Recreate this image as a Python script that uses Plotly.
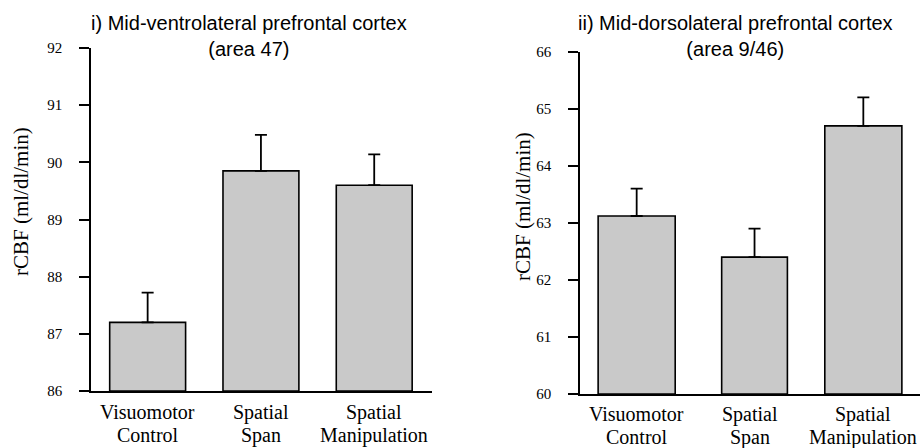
import plotly.graph_objects as go

categories = ["Visuomotor<br>Control", "Spatial<br>Span", "Spatial<br>Manipulation"]
vlpfc_values = [87.2, 89.85, 89.6]
vlpfc_errors = [0.52, 0.63, 0.54]
dlpfc_values = [63.12, 62.4, 64.7]
dlpfc_errors = [0.48, 0.5, 0.5]
vlpfc_ticks = [86, 87, 88, 89, 90, 91, 92]
dlpfc_ticks = [60, 61, 62, 63, 64, 65, 66]
vlpfc_base = 86
dlpfc_base = 60

W, H = 922, 448
serif = "Liberation Serif, Times New Roman, serif"
sans = "Liberation Sans, Arial, sans-serif"
fill = "#c9c9c9"

fig = go.Figure()

fig.add_trace(go.Bar(
    x=categories, y=[v - vlpfc_base for v in vlpfc_values], base=vlpfc_base,
    xaxis="x", yaxis="y",
    width=[0.67, 0.67, 0.67],
    marker=dict(color=fill, line=dict(color="black", width=1.6)),
    error_y=dict(type="data", array=vlpfc_errors, arrayminus=[0, 0, 0],
                 symmetric=False, color="black", thickness=1.8, width=6),
    showlegend=False, hoverinfo="skip",
))

fig.add_trace(go.Bar(
    x=categories, y=[v - dlpfc_base for v in dlpfc_values], base=dlpfc_base,
    xaxis="x2", yaxis="y2",
    width=[0.68, 0.58, 0.68],
    offset=[-0.34, -0.25, -0.34],
    marker=dict(color=fill, line=dict(color="black", width=1.6)),
    error_y=dict(type="data", array=dlpfc_errors, arrayminus=[0, 0, 0],
                 symmetric=False, color="black", thickness=1.8, width=6),
    showlegend=False, hoverinfo="skip",
))

xcommon = dict(showline=True, linecolor="black", linewidth=1.6, ticks="",
               showgrid=False, zeroline=False, automargin=False, showticklabels=False)
ycommon = dict(showline=True, linecolor="black", linewidth=1.6, ticks="outside",
               ticklen=10, tickwidth=1.6, tickcolor="black", showgrid=False, zeroline=False,
               automargin=False,
               tickfont=dict(family=serif, size=15, color="black"), ticklabelstandoff=14)

annotations = [
    dict(text="i) Mid-ventrolateral prefrontal cortex<br>(area 47)", x=249 / W, y=1 - 10 / H,
         xref="paper", yref="paper", xanchor="center", yanchor="top", showarrow=False,
         font=dict(family=sans, size=20, color="black")),
    dict(text="ii) Mid-dorsolateral prefrontal cortex<br>(area 9/46)", x=735 / W, y=1 - 10 / H,
         xref="paper", yref="paper", xanchor="center", yanchor="top", showarrow=False,
         font=dict(family=sans, size=20, color="black")),
    dict(text="rCBF (ml/dl/min)", textangle=-90, x=21 / W, y=1 - 202 / H,
         xref="paper", yref="paper", xanchor="center", yanchor="middle", showarrow=False,
         font=dict(family=serif, size=21, color="black")),
    dict(text="rCBF (ml/dl/min)", textangle=-90, x=523 / W, y=1 - 207 / H,
         xref="paper", yref="paper", xanchor="center", yanchor="middle", showarrow=False,
         font=dict(family=serif, size=21, color="black")),
]
# category labels, two lines each, placed under each axis
for xref, y0 in (("x", 412), ("x2", 414)):
    for cat in categories:
        for i, line in enumerate(cat.split("<br>")):
            annotations.append(dict(
                text=line, x=cat, xref=xref, y=1 - (y0 + 23 * i) / H, yref="paper",
                xanchor="center", yanchor="middle", showarrow=False,
                font=dict(family=serif, size=20, color="black")))

fig.update_layout(
    width=W, height=H,
    margin=dict(l=0, r=0, t=0, b=0),
    paper_bgcolor="white", plot_bgcolor="white",
    xaxis=dict(domain=[91 / W, 432 / W], range=[-0.5, 2.51], anchor="y", **xcommon),
    yaxis=dict(domain=[1 - 391 / H, 1 - 48 / H], range=[86, 92], tickvals=vlpfc_ticks,
               anchor="x", **ycommon),
    xaxis2=dict(domain=[580 / W, 920 / W], range=[-0.5, 2.5], anchor="y2", **xcommon),
    yaxis2=dict(domain=[1 - 394 / H, 1 - 51.7 / H], range=[60, 66], tickvals=dlpfc_ticks,
                anchor="x2", **ycommon),
    annotations=annotations,
)

fig.write_html("out.html", config={"displayModeBar": False},
               post_script="document.body.style.margin='0px';document.body.style.overflow='hidden';")
